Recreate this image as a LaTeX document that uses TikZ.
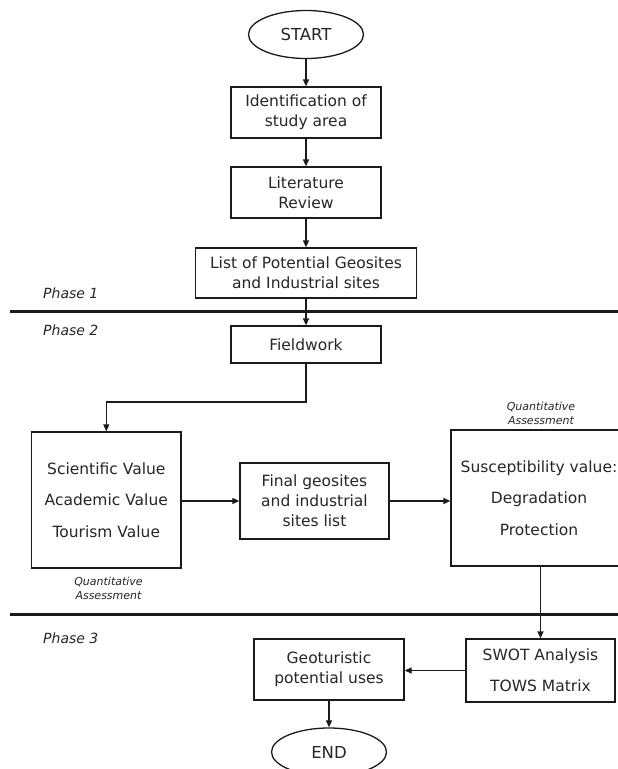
\documentclass[tikz,border=0pt]{standalone}
\usepackage{fontspec}
\setmainfont{DejaVu Sans}
\usetikzlibrary{arrows.meta,shapes.geometric}
\definecolor{ink}{HTML}{1A1A1A}
\definecolor{txt}{HTML}{262626}
\begin{document}
\begin{tikzpicture}[x=1pt,y=-1pt,
  box/.style={draw=ink, line width=1.3pt, inner sep=0pt, align=center, text=txt,
    font=\fontsize{15.5}{20}\selectfont},
  term/.style={draw=ink, line width=1.3pt, ellipse, inner sep=0pt, text=txt,
    minimum width=115pt, minimum height=48pt, font=\fontsize{16.5}{20}\selectfont},
  arr/.style={draw=ink, line width=1.3pt, -{Triangle[length=7pt,width=6pt]}},
  phaseline/.style={draw=ink, line width=3pt},
  phase/.style={text=txt, anchor=west, inner sep=0pt, font=\fontsize{14}{16}\selectfont\itshape},
  note/.style={text=txt, align=center, inner sep=0pt, font=\fontsize{11}{14}\selectfont\itshape}]
\useasboundingbox (0,0) rectangle (618,769);
\clip (0,0) rectangle (618,769);
\fill[white] (0,0) rectangle (618,769);

% phase separators
\coordinate (l1a) at (10,311); \coordinate (l1b) at (640,311);
\coordinate (l2a) at (10,614); \coordinate (l2b) at (640,614);
\draw[phaseline] (l1a) -- (l1b);
\draw[phaseline] (l2a) -- (l2b);

% phase labels
\node[phase] (p1) at (43,293) {Phase 1};
\node[phase] (p2) at (43,330) {Phase 2};
\node[phase] (p3) at (43,638) {Phase 3};

% nodes
\node[term] (start) at (306,34.5) {START};
\node[box, minimum width=150pt, minimum height=51pt] (ident) at (306,112.5) {Identification of\\study area};
\node[box, minimum width=150pt, minimum height=51pt] (lit) at (306,192.5) {Literature\\Review};
\node[box, minimum width=221.5pt, minimum height=50pt] (list) at (306,273) {List of Potential Geosites\\and Industrial sites};
\node[box, minimum width=150pt, minimum height=37pt] (field) at (306,344.5) {Fieldwork};
\node[box, minimum width=149.4pt, minimum height=136pt] (vals) at (106.3,500) {Scientific Value\\[11.5pt]Academic Value\\[11.5pt]Tourism Value};
\node[box, minimum width=149pt, minimum height=76pt] (final) at (314.5,501) {Final geosites\\and industrial\\sites list};
\node[box, minimum width=176pt, minimum height=136pt] (susc) at (539,498) {Susceptibility value:\\[11.5pt]Degradation\\[11.5pt]Protection};
\node[box, minimum width=149pt, minimum height=63pt] (swot) at (540.5,670.5) {SWOT Analysis\\[11pt]TOWS Matrix};
\node[box, minimum width=150pt, minimum height=61pt] (geo) at (329,669.5) {Geoturistic\\potential uses};
\node[term] (end) at (329,752) {END};

% notes
\node[note] (q1) at (541,413) {Quantitative\\Assessment};
\node[note] (q2) at (108.5,588) {Quantitative\\Assessment};

% connectors
\draw[arr] (start) -- (ident);
\draw[arr] (ident) -- (lit);
\draw[arr] (lit) -- (list);
\draw[arr] (list) -- (field);
\coordinate (bend) at (306,402);
\draw[arr] (field.south) -- (bend) -- (bend -| vals.north) -- (vals.north);
\draw[arr] (vals.east |- final.west) -- (final.west);
\draw[arr] (final.east) -- (final.east -| susc.west);
\draw[arr] (swot.north |- susc.south) -- (swot.north);
\draw[arr] (swot.west) -- (swot.west -| geo.east);
\draw[arr] (geo) -- (end);
\end{tikzpicture}
\end{document}
